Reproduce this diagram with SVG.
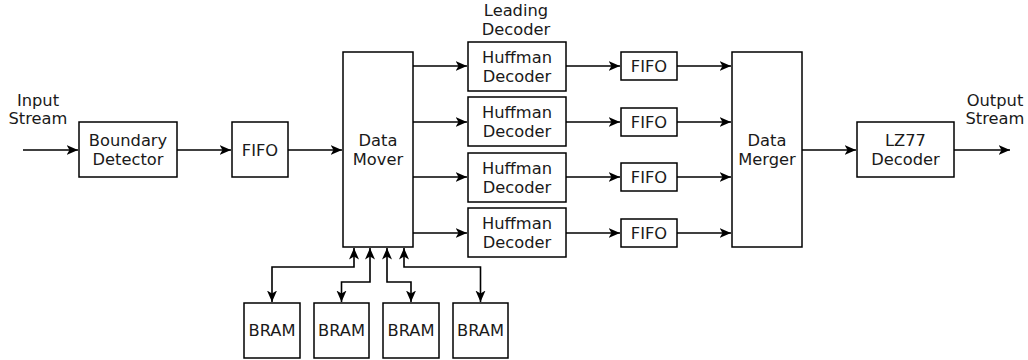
<svg xmlns="http://www.w3.org/2000/svg" width="1028" height="360" viewBox="0 0 1028 360">
<style>
.b{fill:#fff;stroke:#000;stroke-width:1.5}
.t{font-family:"DejaVu Sans",Verdana,sans-serif;font-size:16.3px;fill:#1a1a1a;text-anchor:middle}
.c{fill:none;stroke:#000;stroke-width:1.6}
</style>
<defs>
<marker id="a" viewBox="0 0 12 11" refX="11.5" refY="5.5" markerWidth="12" markerHeight="11" markerUnits="userSpaceOnUse" orient="auto-start-reverse">
<path d="M0,0.5 L11.5,5.5 L0,10.5 L3,5.5 Z" fill="#000"/>
</marker>
</defs>
<rect width="1028" height="360" fill="#fff"/>
<g id="connectors">
<path class="c" d="M23,150 H78" marker-end="url(#a)"/>
<path class="c" d="M177,150 H231" marker-end="url(#a)"/>
<path class="c" d="M288,150 H342" marker-end="url(#a)"/>
<path class="c" d="M413,66 H467" marker-end="url(#a)"/>
<path class="c" d="M413,122 H467" marker-end="url(#a)"/>
<path class="c" d="M413,177 H467" marker-end="url(#a)"/>
<path class="c" d="M413,233 H467" marker-end="url(#a)"/>
<path class="c" d="M566,66 H620" marker-end="url(#a)"/>
<path class="c" d="M566,122 H620" marker-end="url(#a)"/>
<path class="c" d="M566,177 H620" marker-end="url(#a)"/>
<path class="c" d="M566,233 H620" marker-end="url(#a)"/>
<path class="c" d="M677,66 H731" marker-end="url(#a)"/>
<path class="c" d="M677,122 H731" marker-end="url(#a)"/>
<path class="c" d="M677,177 H731" marker-end="url(#a)"/>
<path class="c" d="M677,233 H731" marker-end="url(#a)"/>
<path class="c" d="M802,150 H856" marker-end="url(#a)"/>
<path class="c" d="M954,150 H1010" marker-end="url(#a)"/>
<path class="c" d="M354,248 V267 H272 V302" marker-start="url(#a)" marker-end="url(#a)"/>
<path class="c" d="M370,248 V282 H341.5 V302" marker-start="url(#a)" marker-end="url(#a)"/>
<path class="c" d="M387,248 V282 H411 V302" marker-start="url(#a)" marker-end="url(#a)"/>
<path class="c" d="M404,248 V267 H480.5 V302" marker-start="url(#a)" marker-end="url(#a)"/>
</g>
<g id="input-label"><text class="t" x="38" y="106">Input</text><text class="t" x="38" y="124">Stream</text></g>
<g id="output-label"><text class="t" x="995" y="106">Output</text><text class="t" x="995" y="124">Stream</text></g>
<g id="leading-label"><text class="t" x="516" y="16">Leading</text><text class="t" x="516" y="35">Decoder</text></g>
<g id="boundary-detector"><rect class="b" x="79" y="122" width="98" height="55"/><text class="t" x="128" y="146">Boundary</text><text class="t" x="128" y="165">Detector</text></g>
<g id="fifo-in"><rect class="b" x="232" y="122" width="56" height="55"/><text class="t" x="260" y="155.5">FIFO</text></g>
<g id="data-mover"><rect class="b" x="343" y="52" width="70" height="195"/><text class="t" x="378" y="146">Data</text><text class="t" x="378" y="165">Mover</text></g>
<g id="huffman-1"><rect class="b" x="468" y="42" width="98" height="49"/><text class="t" x="517" y="63">Huffman</text><text class="t" x="517" y="82">Decoder</text></g>
<g id="huffman-2"><rect class="b" x="468" y="97" width="98" height="49"/><text class="t" x="517" y="118">Huffman</text><text class="t" x="517" y="137">Decoder</text></g>
<g id="huffman-3"><rect class="b" x="468" y="153" width="98" height="49"/><text class="t" x="517" y="174">Huffman</text><text class="t" x="517" y="193">Decoder</text></g>
<g id="huffman-4"><rect class="b" x="468" y="208" width="98" height="49"/><text class="t" x="517" y="229">Huffman</text><text class="t" x="517" y="248">Decoder</text></g>
<g id="fifo-1"><rect class="b" x="621" y="52" width="56" height="28"/><text class="t" x="649" y="72">FIFO</text></g>
<g id="fifo-2"><rect class="b" x="621" y="108" width="56" height="28"/><text class="t" x="649" y="128">FIFO</text></g>
<g id="fifo-3"><rect class="b" x="621" y="163" width="56" height="28"/><text class="t" x="649" y="183">FIFO</text></g>
<g id="fifo-4"><rect class="b" x="621" y="219" width="56" height="28"/><text class="t" x="649" y="239">FIFO</text></g>
<g id="data-merger"><rect class="b" x="732" y="52" width="70" height="195"/><text class="t" x="767" y="146">Data</text><text class="t" x="767" y="165">Merger</text></g>
<g id="lz77-decoder"><rect class="b" x="857" y="122" width="97" height="55"/><text class="t" x="905.5" y="146">LZ77</text><text class="t" x="905.5" y="165">Decoder</text></g>
<g id="bram-1"><rect class="b" x="244" y="303" width="56" height="55"/><text class="t" x="272" y="336">BRAM</text></g>
<g id="bram-2"><rect class="b" x="314" y="303" width="55" height="55"/><text class="t" x="341.5" y="336">BRAM</text></g>
<g id="bram-3"><rect class="b" x="383" y="303" width="56" height="55"/><text class="t" x="411" y="336">BRAM</text></g>
<g id="bram-4"><rect class="b" x="453" y="303" width="55" height="55"/><text class="t" x="480.5" y="336">BRAM</text></g>
</svg>
